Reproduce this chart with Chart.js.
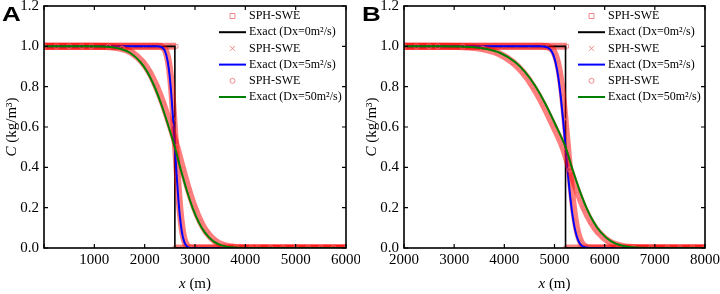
<!DOCTYPE html>
<html>
<head>
<meta charset="utf-8">
<script src="https://cdn.jsdelivr.net/npm/chart.js@4"></script>
<style>
  body { margin: 0; background: #fff; }
  #wrap { display: flex; width: 720px; height: 294px; }
  .panel { position: relative; width: 360px; height: 294px; }
</style>
</head>
<body>
<div id="wrap">
  <div class="panel"><canvas id="chartA" width="360" height="294"></canvas></div>
  <div class="panel"><canvas id="chartB" width="360" height="294"></canvas></div>
</div>
<script>
// ---- data (x in m, C in kg/m3) ----
const legendLabels = ["SPH-SWE", "Exact (Dx=0m\u00B2/s)", "SPH-SWE", "Exact (Dx=5m\u00B2/s)", "SPH-SWE", "Exact (Dx=50m\u00B2/s)"];

// panel A
const aStepX = [0, 2600, 2600, 6000];
const aStepC = [1, 1, 0, 0];
const aSqX = [0, 250, 500, 750, 1000, 1250, 1500, 1750, 2000, 2250, 2500, 2625, 2612, 2600, 2750,
  3000, 3250, 3500, 3750, 4000, 4250, 4500, 4750, 5000, 5250, 5500, 5750, 6000];
const aSqC = [1, 1, 1, 1, 1, 1, 1, 1, 1, 1, 1, 1, null, 0, 0,
  0, 0, 0, 0, 0, 0, 0, 0, 0, 0, 0, 0, 0];
const aBlueX = [0, 2250, 2320, 2390, 2425, 2460, 2495, 2530, 2565, 2600, 2635, 2670, 2705, 2740, 2775, 2810, 2880, 2950, 6000];
const aBlueC = [1, 1, 0.998, 0.983, 0.961, 0.921, 0.856, 0.760, 0.638, 0.5, 0.362, 0.240, 0.144, 0.079, 0.039, 0.017, 0.002, 0, 0];
const aCrossX = [0, 250, 500, 750, 1000, 1250, 1500, 1750, 2000,
  2265, 2335, 2405, 2440, 2475, 2510, 2545, 2580, 2615, 2650, 2685, 2720, 2755, 2790, 2825, 2895, 2965,
  3250, 3500, 3750, 4000, 4250, 4500, 4750, 5000, 5250, 5500, 5750, 6000];
const aCrossC = [1, 1, 1, 1, 1, 1, 1, 1, 1,
  1, 0.998, 0.983, 0.961, 0.921, 0.856, 0.760, 0.638, 0.5, 0.362, 0.240, 0.144, 0.079, 0.039, 0.017, 0.002, 0,
  0, 0, 0, 0, 0, 0, 0, 0, 0, 0, 0, 0];
const aGreenX = [0, 900, 1240, 1512, 1716, 1920, 2056, 2192, 2328, 2464, 2600, 2718, 2836, 2954, 3072, 3190, 3367, 3544, 3780, 4075, 6000];
const aGreenC = [1, 1, 0.998, 0.988, 0.967, 0.921, 0.871, 0.802, 0.714, 0.611, 0.5, 0.389, 0.286, 0.198, 0.129, 0.079, 0.033, 0.012, 0.002, 0, 0];
const aCircX = [0, 250, 500, 750,
  940, 1280, 1552, 1756, 1960, 2096, 2232, 2368, 2504, 2640, 2758, 2876, 2994, 3112, 3230, 3407, 3584, 3820, 4115,
  4250, 4500, 4750, 5000, 5250, 5500, 5750, 6000];
const aCircC = [1, 1, 1, 1,
  1, 0.998, 0.988, 0.967, 0.921, 0.871, 0.802, 0.714, 0.611, 0.5, 0.389, 0.286, 0.198, 0.129, 0.079, 0.033, 0.012, 0.002, 0,
  0, 0, 0, 0, 0, 0, 0, 0];

// panel B
const bStepX = [2000, 5220, 5220, 8000];
const bStepC = [1, 1, 0, 0];
const bSqX = [2000, 2250, 2500, 2750, 3000, 3250, 3500, 3750, 4000, 4250, 4500, 4750, 5000, 5245, 5232, 5220,
  5500, 5750, 6000, 6250, 6500, 6750, 7000, 7250, 7500, 7750, 8000];
const bSqC = [1, 1, 1, 1, 1, 1, 1, 1, 1, 1, 1, 1, 1, 1, null, 0,
  0, 0, 0, 0, 0, 0, 0, 0, 0, 0, 0];
const bBlueX = [2000, 4720, 4820, 4920, 4970, 5020, 5070, 5120, 5170, 5220, 5270, 5320, 5370, 5420, 5470, 5520, 5620, 5720, 8000];
const bBlueC = [1, 1, 0.998, 0.983, 0.961, 0.921, 0.856, 0.760, 0.638, 0.5, 0.362, 0.240, 0.144, 0.079, 0.039, 0.017, 0.002, 0, 0];
const bCrossX = [2000, 2250, 2500, 2750, 3000, 3250, 3500, 3750, 4000, 4250, 4500,
  4760, 4860, 4960, 5010, 5060, 5110, 5160, 5210, 5260, 5310, 5360, 5410, 5460, 5510, 5560, 5660, 5760,
  6000, 6250, 6500, 6750, 7000, 7250, 7500, 7750, 8000];
const bCrossC = [1, 1, 1, 1, 1, 1, 1, 1, 1, 1, 1,
  1, 0.998, 0.983, 0.961, 0.921, 0.856, 0.760, 0.638, 0.5, 0.362, 0.240, 0.144, 0.079, 0.039, 0.017, 0.002, 0,
  0, 0, 0, 0, 0, 0, 0, 0, 0];
const bGreenX = [2000, 2720, 3220, 3620, 3920, 4220, 4420, 4620, 4820, 5020, 5220, 5360, 5500, 5640, 5780, 5920, 6130, 6340, 6620, 6970, 8000];
const bGreenC = [1, 1, 0.998, 0.988, 0.967, 0.921, 0.871, 0.802, 0.714, 0.611, 0.5, 0.389, 0.286, 0.198, 0.129, 0.079, 0.033, 0.012, 0.002, 0, 0];
const bCircX = [2000, 2250, 2500,
  2670, 3170, 3570, 3870, 4170, 4370, 4570, 4770, 4970, 5170, 5310, 5450, 5590, 5730, 5870, 6080, 6290, 6570, 6920,
  7250, 7500, 7750, 8000];
const bCircC = [1, 1, 1,
  1, 0.998, 0.988, 0.967, 0.921, 0.871, 0.802, 0.714, 0.611, 0.5, 0.389, 0.286, 0.198, 0.129, 0.079, 0.033, 0.012, 0.002, 0,
  0, 0, 0, 0];

const SERIF = "'Liberation Serif', 'Times New Roman', serif";
const PINK = "rgba(240, 110, 110, 0.8)";
const BAND = "rgba(255, 0, 0, 0.5)";

function pts(xs, ys) {
  return xs.map((x, i) => ({ x: x, y: ys[i] }));
}

function sphSet(xs, ys, style, row, order) {
  return {
    data: pts(xs, ys), showLine: true, row: row, order: order,
    borderColor: BAND, borderWidth: 7, cubicInterpolationMode: "monotone",
    clip: { left: 0, right: 0, top: 6, bottom: 0 },
    pointStyle: style, pointRadius: 2.5, pointBorderWidth: 1,
    pointBorderColor: PINK, pointBackgroundColor: "rgba(0,0,0,0)"
  };
}

function exactSet(xs, ys, color, row, order, smooth) {
  return {
    data: pts(xs, ys), showLine: true, row: row, order: order,
    borderColor: color, borderWidth: color === "#000000" ? 1.6 : 2,
    cubicInterpolationMode: smooth ? "monotone" : "default", tension: 0,
    pointRadius: 0
  };
}

// frame, inward ticks, legend, axis titles, panel letter
const decor = {
  id: "decor",
  afterDatasetsDraw(chart) {
    const { ctx, chartArea: a, scales: { x, y } } = chart;
    ctx.save();
    ctx.strokeStyle = "#000";
    ctx.lineWidth = 1.2;
    ctx.beginPath();
    x.ticks.forEach(t => {
      const p = x.getPixelForValue(t.value);
      ctx.moveTo(p, a.bottom); ctx.lineTo(p, a.bottom - 4);
      ctx.moveTo(p, a.top); ctx.lineTo(p, a.top + 4);
    });
    y.ticks.forEach(t => {
      const p = y.getPixelForValue(t.value);
      ctx.moveTo(a.left, p); ctx.lineTo(a.left + 4, p);
      ctx.moveTo(a.right, p); ctx.lineTo(a.right - 4, p);
    });
    ctx.stroke();
    ctx.lineWidth = 1.6;
    ctx.strokeRect(a.left, a.top, a.right - a.left, a.bottom - a.top);
    ctx.restore();
  },
  afterDraw(chart, args, opts) {
    const { ctx, chartArea: a } = chart;
    ctx.save();
    // legend
    const sets = chart.data.datasets.slice().sort((p, q) => p.row - q.row);
    ctx.font = "12px " + SERIF;
    ctx.textBaseline = "middle";
    ctx.fillStyle = "#000";
    sets.forEach((ds, i) => {
      const cy = a.top + 10 + i * 16.2;
      const x0 = a.right - 127, x1 = a.right - 100, cx = (x0 + x1) / 2;
      if (ds.pointRadius) {
        ctx.strokeStyle = PINK; ctx.lineWidth = 1;
        ctx.beginPath();
        if (ds.pointStyle === "rect") ctx.rect(cx - 2.5, cy - 2.5, 5, 5);
        else if (ds.pointStyle === "crossRot") { ctx.moveTo(cx - 2.5, cy - 2.5); ctx.lineTo(cx + 2.5, cy + 2.5); ctx.moveTo(cx + 2.5, cy - 2.5); ctx.lineTo(cx - 2.5, cy + 2.5); }
        else ctx.arc(cx, cy, 2.5, 0, Math.PI * 2);
        ctx.stroke();
      } else {
        ctx.strokeStyle = ds.borderColor; ctx.lineWidth = 2;
        ctx.beginPath(); ctx.moveTo(x0, cy); ctx.lineTo(x1, cy); ctx.stroke();
      }
      ctx.fillText(legendLabels[ds.row], a.right - 97, cy);
    });
    // axis titles
    ctx.font = "italic 15px " + SERIF;
    const wc = ctx.measureText("C").width;
    ctx.font = "15px " + SERIF;
    const wr = ctx.measureText(" (kg/m\u00B3)").width;
    ctx.translate(12, (a.top + a.bottom) / 2);
    ctx.rotate(-Math.PI / 2);
    ctx.textAlign = "left";
    ctx.font = "italic 15px " + SERIF;
    ctx.fillText("C", -(wc + wr) / 2, 0);
    ctx.font = "15px " + SERIF;
    ctx.fillText(" (kg/m\u00B3)", -(wc + wr) / 2 + wc, 0);
    ctx.setTransform(1, 0, 0, 1, 0, 0);
    ctx.font = "italic 15px " + SERIF;
    const wx = ctx.measureText("x").width;
    ctx.font = "15px " + SERIF;
    const wm = ctx.measureText(" (m)").width;
    const sx = (a.left + a.right) / 2 - (wx + wm) / 2;
    ctx.font = "italic 15px " + SERIF;
    ctx.fillText("x", sx, 284);
    ctx.font = "15px " + SERIF;
    ctx.fillText(" (m)", sx + wx, 284);
    // panel letter
    ctx.font = "bold 20px 'Liberation Sans', Arial, sans-serif";
    ctx.textBaseline = "alphabetic";
    ctx.translate(2, 21);
    ctx.scale(1.3, 1);
    ctx.fillText(opts.letter, 0, 0);
    ctx.restore();
  }
};

function makeChart(id, letter, xmin, xmax, rightPad, d) {
  return new Chart(document.getElementById(id), {
    type: "scatter",
    data: {
      datasets: [
        exactSet(d.greenX, d.greenC, "#008000", 5, 0, true),
        sphSet(d.circX, d.circC, "circle", 4, 1),
        exactSet(d.blueX, d.blueC, "#0000ff", 3, 2, true),
        sphSet(d.crossX, d.crossC, "crossRot", 2, 3),
        exactSet(d.stepX, d.stepC, "#000000", 1, 4, false),
        sphSet(d.sqX, d.sqC, "rect", 0, 5)
      ]
    },
    options: {
      responsive: false,
      animation: false,
      devicePixelRatio: 1,
      layout: { padding: { left: 0, right: rightPad, top: 6, bottom: 0 } },
      plugins: { legend: { display: false }, tooltip: { enabled: false }, decor: { letter: letter } },
      scales: {
        x: {
          type: "linear", min: xmin, max: xmax,
          grid: { display: false, drawTicks: false }, border: { display: false },
          ticks: {
            stepSize: 1000, padding: 3, color: "#000", font: { family: SERIF, size: 15 },
            callback: v => (v === 0 ? "" : String(v))
          },
          afterFit: s => { s.height = 46; s.paddingLeft = 0; s.paddingRight = 0; }
        },
        y: {
          min: 0, max: 1.2,
          grid: { display: false, drawTicks: false }, border: { display: false },
          ticks: {
            stepSize: 0.2, padding: 5, color: "#000", font: { family: SERIF, size: 15 },
            callback: v => v.toFixed(1)
          },
          afterFit: s => { s.width = 44; s.paddingTop = 0; s.paddingBottom = 0; }
        }
      }
    },
    plugins: [decor]
  });
}

makeChart("chartA", "A", 0, 6000, 14, {
  stepX: aStepX, stepC: aStepC, sqX: aSqX, sqC: aSqC, blueX: aBlueX, blueC: aBlueC,
  crossX: aCrossX, crossC: aCrossC, greenX: aGreenX, greenC: aGreenC, circX: aCircX, circC: aCircC
});
makeChart("chartB", "B", 2000, 8000, 15, {
  stepX: bStepX, stepC: bStepC, sqX: bSqX, sqC: bSqC, blueX: bBlueX, blueC: bBlueC,
  crossX: bCrossX, crossC: bCrossC, greenX: bGreenX, greenC: bGreenC, circX: bCircX, circC: bCircC
});
</script>
</body>
</html>
